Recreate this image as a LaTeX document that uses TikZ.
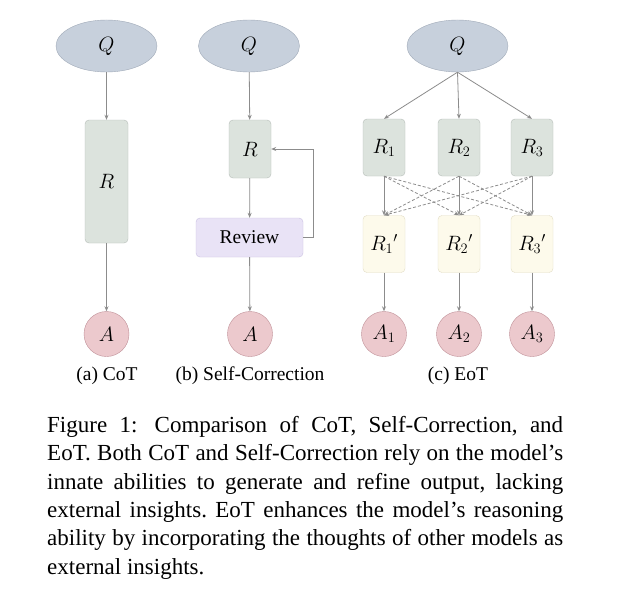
\documentclass[tikz,border=0pt]{standalone}
\usepackage{fontspec}
\setmainfont{Liberation Serif}
\usepackage{amsmath}
\usetikzlibrary{arrows.meta, shapes.geometric}

\definecolor{qfill}{RGB}{199,208,220}
\definecolor{qline}{RGB}{160,170,184}
\definecolor{rfill}{RGB}{220,227,221}
\definecolor{rline}{RGB}{182,190,184}
\definecolor{vfill}{RGB}{233,227,246}
\definecolor{vline}{RGB}{202,192,226}
\definecolor{pfill}{RGB}{253,250,235}
\definecolor{pline}{RGB}{226,221,196}
\definecolor{afill}{RGB}{236,201,205}
\definecolor{aline}{RGB}{192,144,152}
\definecolor{edge}{RGB}{140,140,140}

\tikzset{
  query/.style={ellipse, draw=qline, fill=qfill, minimum width=101pt, minimum height=52pt, inner sep=0pt, font=\fontsize{22}{26}\selectfont},
  thought/.style={rectangle, rounded corners=4pt, draw=rline, fill=rfill, minimum width=42pt, minimum height=57pt, inner sep=0pt, font=\fontsize{22}{26}\selectfont},
  refined/.style={thought, draw=pline, fill=pfill},
  review/.style={rectangle, rounded corners=4pt, draw=vline, fill=vfill, minimum width=107pt, minimum height=39pt, inner sep=0pt},
  answer/.style={circle, draw=aline, fill=afill, minimum size=45pt, inner sep=0pt, font=\fontsize{22}{26}\selectfont},
  link/.style={draw=edge, line width=0.8pt, -{Stealth[length=5pt, width=4pt]}},
  peer/.style={link, dashed, dash pattern=on 3pt off 2pt}
}

\begin{document}
\begin{tikzpicture}[x=1pt, y=-1pt, font=\fontsize{19.5}{23}\selectfont]
    \useasboundingbox[fill=white] (0,0) rectangle (640,594);

    % (a) CoT
    \node[query] (qa) at (106.5,46) {$Q$};
    \node[thought, minimum width=43pt, minimum height=123pt] (ra) at (106.5,181.5) {$R$};
    \node[answer] (aa) at (106.5,334) {$A$};
    \draw[link] (qa) -- (ra);
    \draw[link] (ra) -- (aa);
    \node (capa) at (107,376) {(a) CoT};

    % (b) Self-Correction
    \node[query] (qb) at (249,46) {$Q$};
    \node[thought, minimum height=58pt] (rb) at (250,149) {$R$};
    \node[review] (rev) at (249.5,237.5) {Review};
    \node[answer] (ab) at (250,334) {$A$};
    \draw[link] (qb) -- (rb);
    \draw[link] (rb) -- (rev);
    \draw[link] (rev) -- (ab);
    \draw[link] (rev.east) -- ++(10,0) |- (rb.east);
    \node (capb) at (250,376) {(b) Self-Correction};

    % (c) EoT
    \node[query] (qc) at (457.5,46) {$Q$};
    \foreach \i/\x in {1/384, 2/459, 3/532} {
        \node[thought] (r\i) at (\x,147.5) {$R_\i$};
        \node[refined] (p\i) at (\x,244) {${R_\i}'$};
        \node[answer] (a\i) at (\x,334) {$A_\i$};
        \draw[link] (qc.south) -- (r\i.north);
        \draw[link] (r\i) -- (p\i);
        \draw[link] (p\i) -- (a\i);
    }
    % exchange of thoughts
    \foreach \i in {1,2,3} {
        \foreach \j in {1,2,3} {
            \ifnum\i=\j\else
                \draw[peer] (r\i.south) -- (p\j.north);
            \fi
        }
    }
    \node (capc) at (458,376) {(c) EoT};

    % caption
    \node[anchor=north west, inner sep=0pt, text width=516pt, align=justify,
          font=\fontsize{23}{28.4}\selectfont\frenchspacing] (cap) at (47,416)
        {Figure 1:\hspace{0.2em} Comparison of CoT, Self-Correction, and\linebreak
         EoT. Both CoT and Self-Correction rely on the model's\linebreak
         innate abilities to generate and refine output, lacking\linebreak
         external insights. EoT enhances the model's reasoning\linebreak
         ability by incorporating the thoughts of other models as\linebreak
         external insights.};
\end{tikzpicture}
\end{document}
